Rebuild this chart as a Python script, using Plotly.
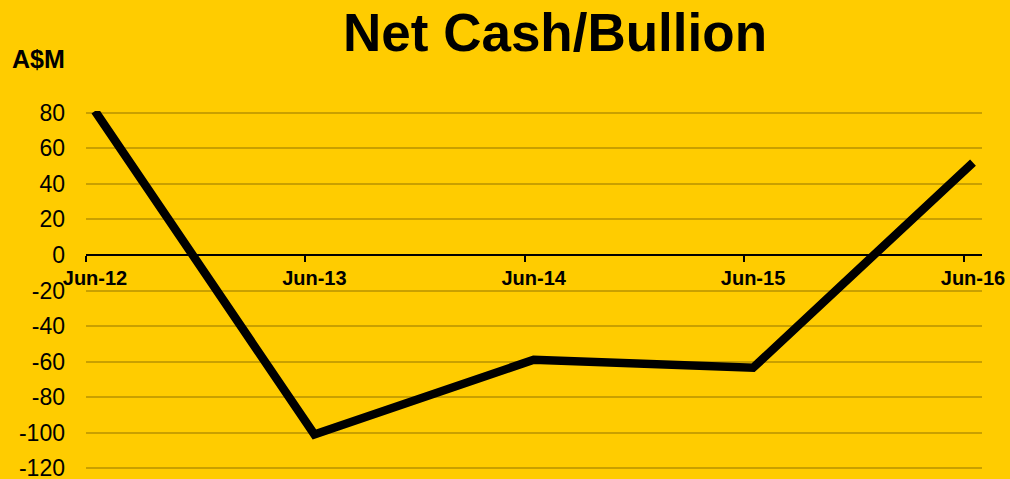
import plotly.graph_objects as go

# Data
periods = ["Jun-12", "Jun-13", "Jun-14", "Jun-15", "Jun-16"]
dates = ["2012-06-30", "2013-06-30", "2014-06-30", "2015-06-30", "2016-06-30"]
net_cash = [81, -101, -59, -63.5, 52]
y_ticks = [80, 60, 40, 20, 0, -20, -40, -60, -80, -100, -120]
y_labels = ["80", "60", "40", "20", "0", "-20", "-40", "-60", "-80", "-100", "-120"]

BG = "#FFCC00"
GRID = "#C9A000"

Y_MIN, Y_MAX = -121, 81

fig = go.Figure()
fig.add_trace(go.Scatter(
    x=dates, y=net_cash, mode="lines",
    line=dict(color="black", width=8.5),
    hoverinfo="x+y",
))

fig.update_layout(
    width=1010, height=479,
    paper_bgcolor=BG, plot_bgcolor=BG,
    margin=dict(l=86, r=28, t=111, b=9, autoexpand=False),
    showlegend=False,
    font=dict(family="Liberation Sans, Arial, sans-serif", color="black"),
    xaxis=dict(
        type="date", automargin=False,
        range=["2012-06-15", "2016-07-15"],
        anchor="free", position=(0 - Y_MIN) / (Y_MAX - Y_MIN),
        showgrid=False, zeroline=False,
        showline=True, linecolor="black", linewidth=2,
        tickvals=dates, ticktext=periods,
        ticks="", ticklabelstandoff=5, ticklabeloverflow="allow",
        tickfont=dict(size=20, family="Liberation Sans, Arial, sans-serif", weight="bold"),
        minor=dict(ticks="outside", tick0="2012-06-15", dtick="M12", ticklen=6,
                   tickcolor="black", tickwidth=2, showgrid=False),
    ),
    yaxis=dict(
        automargin=False,
        range=[Y_MIN, Y_MAX],
        tickvals=y_ticks, ticktext=y_labels,
        showgrid=True, gridcolor=GRID, gridwidth=2,
        zeroline=False, showline=False, ticks="",
        ticklabelstandoff=20, ticklabeloverflow="allow",
        tickfont=dict(size=23),
    ),
    annotations=[
        dict(text="<b>Net Cash/Bullion</b>", xref="paper", yref="paper",
             x=(555 - 86) / 896, y=1 + (111 - 33) / 359, xanchor="center", yanchor="middle",
             showarrow=False, font=dict(size=53, color="black")),
        dict(text="<b>A$M</b>", xref="paper", yref="paper",
             x=(38 - 86) / 896, y=1 + (111 - 59) / 359, xanchor="center", yanchor="middle",
             showarrow=False, font=dict(size=25, color="black")),
    ],
)

fig.write_html(
    "out.html",
    config={"displayModeBar": False},
    post_script="document.body.style.margin='0';document.body.style.padding='0';"
                "document.body.style.background='" + BG + "';",
)
